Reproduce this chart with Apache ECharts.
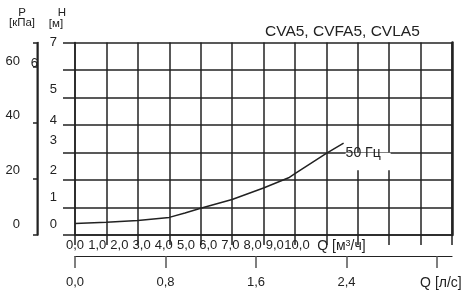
<!DOCTYPE html>
<html><head><meta charset="utf-8">
<script src="https://cdn.jsdelivr.net/npm/echarts@6/dist/echarts.min.js"></script>
<style>html,body{margin:0;padding:0;background:#fff}#c{width:464px;height:295px}</style>
</head><body><div id="c"></div>
<script>
// ---- data ----
const titleText = 'CVA5, CVFA5, CVLA5';
const flowM3h = [0, 1, 2, 3, 3.5, 4, 5, 6, 6.8, 7, 8, 8.55];
const headM   = [0.42, 0.46, 0.53, 0.64, 0.8, 0.97, 1.29, 1.71, 2.08, 2.23, 2.97, 3.34];
const curveLabel = '50 Гц';
const qM3hTicks  = [0, 1, 2, 3, 4, 5, 6, 7, 8, 9, 10];
const qM3hLabels = ['0,0', '1,0', '2,0', '3,0', '4,0', '5,0', '6,0', '7,0', '8,0', '9,0', '10,0'];
const qM3hName = ['Q [м', '3', '/ч]'];
const qLsTicks  = [0, 0.8, 1.6, 2.4, 3.2];
const qLsLabels = ['0,0', '0,8', '1,6', '2,4', 'Q [л/с]'];
const hTicks  = [0, 1, 2, 3, 4, 5, 6, 7];
const hLabels = ['0', '1', '2', '3', '4', '5', '6', '7'];
const pTicks  = [0, 20, 40, 60];
const pLabels = ['0', '20', '40', '60'];
const pNameLines = ['P', '[кПа]'];
const hNameLines = ['H', '[м]'];
const qMaxM3h = 12, hMax = 7, kPaPerM = 9.81, m3hPerLs = 3.6;
const pMax = hMax * kPaPerM;

// ---- style / layout ----
const FONT = "'Liberation Sans', Arial, sans-serif";
const INK = '#222';
const GRID = { left: 75, right: 12, top: 42.5, bottom: 60 };
const gridW = 464 - GRID.left - GRID.right;
const packedStep = 22.2; // px per packed label on the m3/h label row
const hLift = {0: 11, 1: 10, 2: 10, 3: 12, 4: 5, 5: 8, 6: 7, 7: 0};
const pLift = {0: 11, 20: 9, 40: 7.5, 60: 5};

const hRich = {};
hTicks.forEach(v => { hRich['h' + v] = { fontSize: 13, fontFamily: FONT, color: INK, padding: [0, v === 6 ? 19 : 0, 2 * hLift[v], 0] }; });
const pRich = {};
pTicks.forEach(v => { pRich['p' + v] = { fontSize: 13, fontFamily: FONT, color: INK, padding: [0, 0, 2 * pLift[v], 0] }; });

const ls = () => ({ color: INK, width: 1.5 });
const chart = echarts.init(document.getElementById('c'), null, { renderer: 'canvas' });

const option = {
  animation: false,
  backgroundColor: '#fff',
  title: { text: titleText, left: 260, top: 19, textStyle: { fontSize: 15.5, fontWeight: 'normal', fontFamily: FONT, color: INK } },
  grid: [
    Object.assign({ outerBoundsMode: 'none' }, GRID),
    { left: 38, width: 1, top: GRID.top, bottom: GRID.bottom, outerBoundsMode: 'none' }
  ],
  xAxis: [
    { // main flow axis (m3/h) – grid lines & ticks
      type: 'value', gridIndex: 0, min: 0, max: qMaxM3h, interval: 1, position: 'bottom',
      axisLine: { show: true, onZero: false, lineStyle: ls() },
      axisTick: { show: true, length: 10, lineStyle: ls() },
      axisLabel: { show: false },
      splitLine: { show: true, lineStyle: ls() }
    },
    { // packed label row for m3/h
      type: 'value', gridIndex: 0, min: 0, max: gridW / packedStep, position: 'bottom', offset: 0,
      axisLine: { show: false }, axisTick: { show: false }, splitLine: { show: false },
      axisLabel: {
        show: true, margin: 4, hideOverlap: false, customValues: qM3hTicks.concat([12]),
        fontSize: 13, fontFamily: FONT, color: INK,
        formatter: v => {
          const i = qM3hTicks.findIndex(t => Math.abs(t - v) < 1e-6);
          if (i >= 0) return qM3hLabels[i];
          if (Math.abs(v - 12) < 1e-6) return '{q|' + qM3hName[0] + '}{s|' + qM3hName[1] + '}{q|' + qM3hName[2] + '}';
          return '';
        },
        rich: {
          q: { fontSize: 14, fontFamily: FONT, color: INK },
          s: { fontSize: 9, fontFamily: FONT, color: INK, verticalAlign: 'top' }
        }
      }
    },
    { // l/s axis
      type: 'value', gridIndex: 0, min: 0, max: qMaxM3h / m3hPerLs, position: 'bottom', offset: 21,
      axisLine: { show: true, onZero: false, lineStyle: { color: INK, width: 1.2 } },
      axisTick: { show: true, length: 12, customValues: qLsTicks, lineStyle: { color: '#555', width: 1.5 } },
      splitLine: { show: false },
      axisLabel: {
        show: true, margin: 20, customValues: qLsTicks, hideOverlap: false,
        fontSize: 13, fontFamily: FONT, color: INK,
        formatter: v => {
          const i = qLsTicks.findIndex(t => Math.abs(t - v) < 1e-6);
          if (i < 0) return '';
          if (i === qLsTicks.length - 1) return '{q|' + qLsLabels[i] + '}';
          return qLsLabels[i];
        },
        rich: { q: { fontSize: 14, fontFamily: FONT, color: INK, padding: [0, 0, 4, 8] } }
      }
    },
    { // helper for the pressure grid
      type: 'value', gridIndex: 1, min: 0, max: 1, show: false
    }
  ],
  yAxis: [
    { // head (m)
      type: 'value', gridIndex: 0, min: 0, max: hMax, interval: 1, position: 'left',
      axisLine: { show: true, onZero: false, lineStyle: ls() },
      axisTick: { show: true, length: 12, lineStyle: ls() },
      splitLine: { show: true, lineStyle: ls() },
      axisLabel: {
        show: true, margin: 18, customValues: hTicks,
        formatter: v => { const i = hTicks.findIndex(t => Math.abs(t - v) < 1e-6); return i < 0 ? '' : '{h' + hTicks[i] + '|' + hLabels[i] + '}'; },
        rich: hRich
      }
    },
    { // pressure (kPa)
      type: 'value', gridIndex: 1, min: 0, max: pMax, interval: 20, position: 'left',
      axisLine: { show: true, onZero: false, lineStyle: ls() },
      axisTick: { show: true, length: 5, lineStyle: ls() },
      splitLine: { show: false },
      axisLabel: {
        show: true, margin: 18,
        formatter: v => { const i = pTicks.findIndex(t => Math.abs(t - v) < 1e-6); return i < 0 ? '' : '{p' + pTicks[i] + '|' + pLabels[i] + '}'; },
        rich: pRich
      }
    },
    { // right border
      type: 'value', gridIndex: 0, min: 0, max: hMax, position: 'right',
      axisLine: { show: true, onZero: false, lineStyle: { color: INK, width: 2.5 } },
      axisTick: { show: false }, axisLabel: { show: false }, splitLine: { show: false }
    }
  ],
  graphic: [
    { id: 'pName', type: 'text', x: 22, y: 18, style: { text: pNameLines.join('\n'), align: 'center', verticalAlign: 'middle', fontSize: 11.5, lineHeight: 10.5, fontFamily: FONT, fill: INK } },
    { id: 'hName1', type: 'text', x: 62, y: 13, style: { text: hNameLines[0], align: 'center', verticalAlign: 'middle', fontSize: 11.5, fontFamily: FONT, fill: INK } },
    { id: 'hName2', type: 'text', x: 56, y: 23.5, style: { text: hNameLines[1], align: 'center', verticalAlign: 'middle', fontSize: 11.5, fontFamily: FONT, fill: INK } }
  ],
  series: [
    {
      type: 'line', xAxisIndex: 0, yAxisIndex: 0, showSymbol: false, symbol: 'none', smooth: false,
      data: flowM3h.map((q, i) => [q, headM[i]]),
      lineStyle: { color: INK, width: 1.5 },
      endLabel: { show: true, formatter: curveLabel, distance: 2, offset: [0, 10], fontSize: 14, fontFamily: FONT, color: INK },
      z: 3
    }
  ]
};
chart.setOption(option);

// white mask under the curve label, anchored to the curve end point
const n = flowM3h.length - 1;
const endPx = chart.convertToPixel({ xAxisIndex: 0, yAxisIndex: 0 }, [flowM3h[n], headM[n]]);
// pressure axis spine, taken from the pressure axis' own scale
const pBottom = chart.convertToPixel({ xAxisIndex: 3, yAxisIndex: 1 }, [0, 0]);
const pTop = chart.convertToPixel({ xAxisIndex: 3, yAxisIndex: 1 }, [0, pMax]);
const spineX = Math.round(pBottom[0]) - 0.75;
chart.setOption({ graphic: [
  { id: 'mask', type: 'rect', z: 1, shape: { x: endPx[0] + 2, y: endPx[1] + 9.5, width: 45, height: 17.5 }, style: { fill: '#fff' } },
  { id: 'pSpine', type: 'line', z: 100, silent: true, shape: { x1: spineX, y1: pTop[1], x2: spineX, y2: pBottom[1] }, style: { stroke: INK, lineWidth: 1.5 } }
] });
</script>
</body></html>
